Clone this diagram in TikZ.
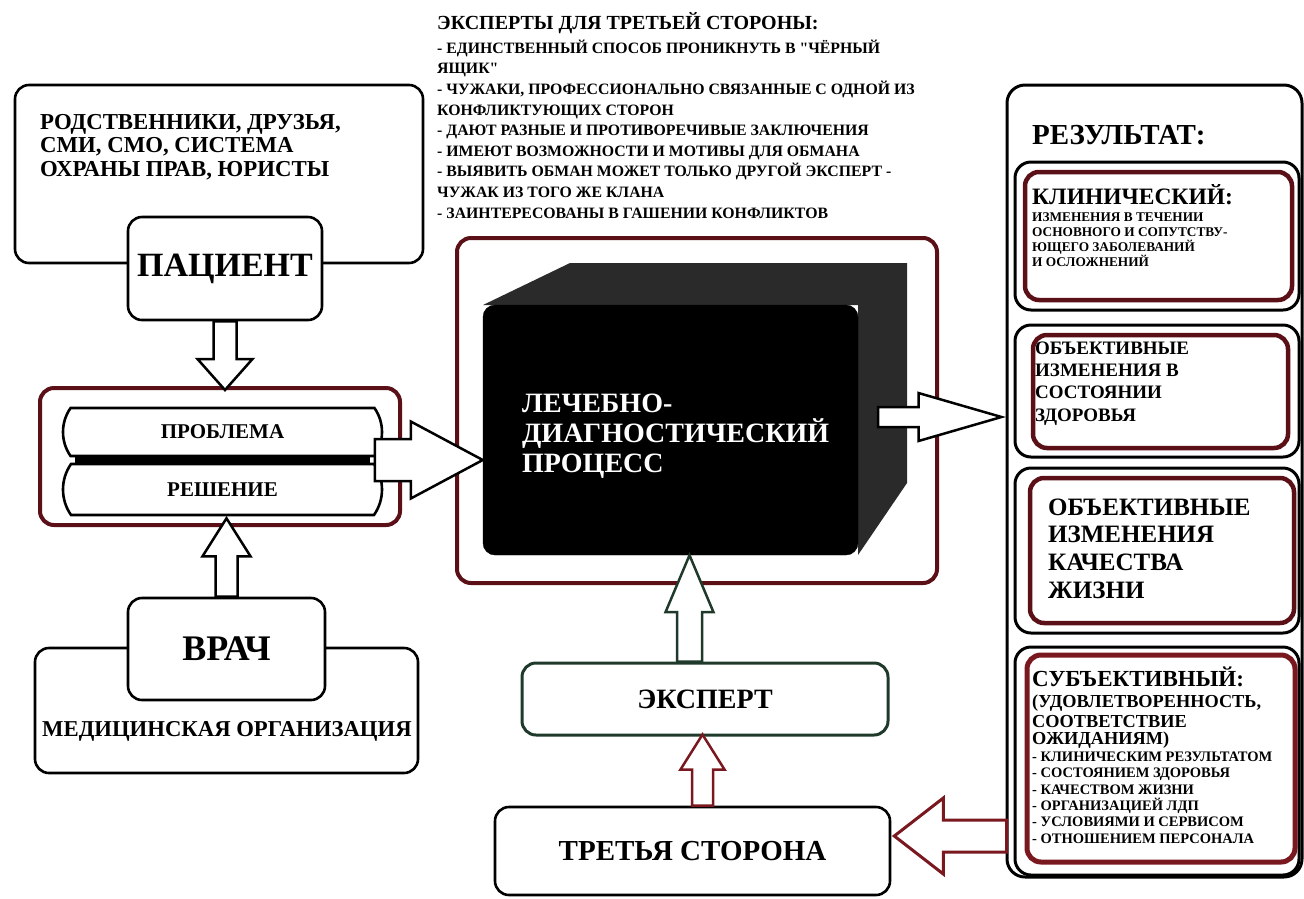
\documentclass[tikz,border=0pt]{standalone}
\usepackage{fontspec}
\setmainfont{Liberation Serif}
\newfontfamily\qfont{Liberation Serif}[Ligatures=TeXOff]
\usetikzlibrary{calc,shapes.misc}
\definecolor{dred}{HTML}{5A1016}
\definecolor{rred}{HTML}{7A1820}
\definecolor{dgreen}{HTML}{1F3A2B}
\definecolor{sideface}{HTML}{2A2A2A}
\newcommand\myfs[1]{\fontsize{#1}{#1}\selectfont\bfseries}
\newcommand\qq{{\qfont\bfseries"}}
\newcommand\blockarr[6][]{%
 \path[#1] let \p1=#2, \p2=#3, \n1={atan2(\y2-\y1,\x2-\x1)}, \n2={veclen(\x2-\x1,\y2-\y1)} in
  {[shift={(\p1)}, rotate=\n1] (0,#4) -- ({\n2-#6},#4) -- ({\n2-#6},#5) -- (\n2,0) -- ({\n2-#6},-#5) -- ({\n2-#6},-#4) -- (0,-#4) -- cycle};}
\tikzset{
 bx/.style={draw, line width=2.6pt, rounded corners=14pt, inner sep=0pt, fill=white},
 rbx/.style={bx, draw=dred, line width=4pt},
 pill/.style={draw, line width=2.6pt, rounded rectangle, rounded rectangle arc length=70, inner sep=0pt, fill=white},
 txt/.style={anchor=base west, inner sep=0pt},
 barr/.style={draw, fill=white, line width=2.5pt, line join=miter},
}
\begin{document}
\begin{tikzpicture}[x=1pt,y=-1pt]
\useasboundingbox (0,0) rectangle (1304,898);
% left column
\node[bx, minimum width=408, minimum height=178] (rod) at (219,174) {};
\node[txt, font=\myfs{22.8}] (rt1) at (40,129) {РОДСТВЕННИКИ, ДРУЗЬЯ,};
\node[txt, font=\myfs{22.8}] (rt2) at (40,152.5) {СМИ, СМО, СИСТЕМА};
\node[txt, font=\myfs{22.8}] (rt3) at (40,176) {ОХРАНЫ ПРАВ, ЮРИСТЫ};
\node[bx, minimum width=194, minimum height=103, font=\myfs{34}] (pat) at (225,268.5) {ПАЦИЕНТ};
\node[rbx, minimum width=360, minimum height=137] (prbox) at (220,456.5) {};
\draw[line width=8pt] (75,460) -- (370,460);
\node[pill, minimum width=319, minimum height=48, font=\myfs{21}] (prob) at (222.5,432) {ПРОБЛЕМА};
\node[pill, minimum width=319, minimum height=51, font=\myfs{21}] (resh) at (222.5,489.5) {РЕШЕНИЕ};
\node[bx, minimum width=383, minimum height=125] (med) at (226.5,710.5) {};
\node[txt, font=\myfs{22.7}] (medt) at (42,736) {МЕДИЦИНСКАЯ ОРГАНИЗАЦИЯ};
\node[bx, minimum width=197, minimum height=102, font=\myfs{36}] (vrach) at (226.5,649) {ВРАЧ};
% black box
\node[rbx, minimum width=480, minimum height=345] (ldpframe) at (697,410.5) {};
\fill[sideface] (483,305) -- (570,263) -- (907,263) -- (907,483) -- (858,555) -- (858,305) -- cycle;
\node[fill=black, draw=black, rounded corners=12pt, minimum width=375, minimum height=250, inner sep=0pt] (front) at (670.5,430) {};
\node[txt, white, font=\myfs{28}] (l1) at (522,412) {ЛЕЧЕБНО-};
\node[txt, white, font=\myfs{28}] (l2) at (522,442) {ДИАГНОСТИЧЕСКИЙ};
\node[txt, white, font=\myfs{28}] (l3) at (522,472) {ПРОЦЕСС};
% expert / third
\node[bx, draw=dgreen, line width=3pt, minimum width=366, minimum height=72, font=\myfs{28}] (eks) at (705,699) {ЭКСПЕРТ};
\node[bx, minimum width=395, minimum height=88, font=\myfs{29}] (third) at (692.5,851) {ТРЕТЬЯ СТОРОНА};
% top text
\node[txt, font=\myfs{20}] (th) at (437,29.5) {ЭКСПЕРТЫ ДЛЯ ТРЕТЬЕЙ СТОРОНЫ:};
\foreach \t [count=\i] in {{- ЕДИНСТВЕННЫЙ СПОСОБ ПРОНИКНУТЬ В \qq ЧЁРНЫЙ},{ЯЩИК\qq},{- ЧУЖАКИ, ПРОФЕССИОНАЛЬНО СВЯЗАННЫЕ С ОДНОЙ ИЗ},{КОНФЛИКТУЮЩИХ СТОРОН},{- ДАЮТ РАЗНЫЕ И ПРОТИВОРЕЧИВЫЕ ЗАКЛЮЧЕНИЯ},{- ИМЕЮТ ВОЗМОЖНОСТИ И МОТИВЫ ДЛЯ ОБМАНА},{- ВЫЯВИТЬ ОБМАН МОЖЕТ ТОЛЬКО ДРУГОЙ ЭКСПЕРТ -},{ЧУЖАК ИЗ ТОГО ЖЕ КЛАНА},{- ЗАИНТЕРЕСОВАНЫ В ГАШЕНИИ КОНФЛИКТОВ}}
  \node[txt, font=\myfs{15.8}] (tl\i) at (437,{53.3+20.6*(\i-1)}) {\t};
% result column
\node[bx, line width=3pt, rounded corners=18pt, minimum width=295, minimum height=792] (res) at (1154.5,481) {};
\node[txt, font=\myfs{29}] (rh) at (1032,144.5) {РЕЗУЛЬТАТ:};
\node[bx, line width=3pt, rounded corners=16pt, minimum width=284, minimum height=148] (ao) at (1157,236) {};
\node[rbx, line width=4.5pt, minimum width=267, minimum height=128] (ai) at (1158.5,236) {};
\node[bx, line width=3pt, rounded corners=16pt, minimum width=284, minimum height=132] (bo) at (1157,391) {};
\node[rbx, line width=4.5pt, minimum width=255, minimum height=113] (bi) at (1160.5,391.5) {};
\node[bx, line width=3pt, rounded corners=16pt, minimum width=284, minimum height=165] (co) at (1157,550.5) {};
\node[rbx, line width=4.5pt, minimum width=264, minimum height=145] (ci) at (1162,550.5) {};
\node[bx, line width=3pt, rounded corners=16pt, minimum width=284, minimum height=228] (do) at (1157,761) {};
\node[rbx, draw=rred, line width=5pt, minimum width=268, minimum height=207] (di) at (1161,758.5) {};
% box A text
\node[txt, font=\myfs{23.5}] (a0) at (1032,204.5) {КЛИНИЧЕСКИЙ:};
\foreach \t [count=\i] in {{ИЗМЕНЕНИЯ В ТЕЧЕНИИ},{ОСНОВНОГО И СОПУТСТВУ-},{ЮЩЕГО ЗАБОЛЕВАНИЙ},{И ОСЛОЖНЕНИЙ}}
  \node[txt, font=\myfs{13.3}] (a\i) at (1032,{221.5+15*(\i-1)}) {\t};
% box B text
\foreach \t [count=\i] in {{ОБЪЕКТИВНЫЕ},{ИЗМЕНЕНИЯ В},{СОСТОЯНИИ},{ЗДОРОВЬЯ}}
  \node[txt, font=\myfs{19}] (b\i) at (1035,{354.3+22.3*(\i-1)}) {\t};
% box C text
\foreach \t [count=\i] in {{ОБЪЕКТИВНЫЕ},{ИЗМЕНЕНИЯ},{КАЧЕСТВА},{ЖИЗНИ}}
  \node[txt, font=\myfs{25}] (c\i) at (1048,{515+27.7*(\i-1)}) {\t};
% box D text
\node[txt, font=\myfs{23}] (d0) at (1032,686) {СУБЪЕКТИВНЫЙ:};
\node[txt, font=\myfs{18.3}] (d1) at (1032,707.8) {(УДОВЛЕТВОРЕННОСТЬ,};
\node[txt, font=\myfs{18.3}] (d2) at (1032,727) {СООТВЕТСТВИЕ};
\node[txt, font=\myfs{18.3}] (d3) at (1032,744.5) {ОЖИДАНИЯМ)};
\foreach \t [count=\i] in {{- КЛИНИЧЕСКИМ РЕЗУЛЬТАТОМ},{- СОСТОЯНИЕМ ЗДОРОВЬЯ},{- КАЧЕСТВОМ ЖИЗНИ},{- ОРГАНИЗАЦИЕЙ ЛДП},{- УСЛОВИЯМИ И СЕРВИСОМ},{- ОТНОШЕНИЕМ ПЕРСОНАЛА}}
  \node[txt, font=\myfs{14.5}] (ds\i) at (1032,{761.5+16.3*(\i-1)}) {\t};
% arrows
\blockarr[barr]{(pat.south)}{($(pat.south |- prbox.north)+(0,4)$)}{11.5}{27.5}{31}
\blockarr[barr]{(vrach.north)}{($(vrach.north |- resh.south)+(0,2)$)}{11}{24}{38}
\coordinate (bstart) at ($(prob.south east)!.5!(resh.north east)$);
\blockarr[barr]{(bstart)}{(front.west |- bstart)}{21}{38.5}{72}
\coordinate (rstart) at ($(front.east)+(20,-13)$);
\blockarr[barr]{(rstart)}{($(res.west |- rstart)+(-4,0)$)}{10}{24}{83}
\blockarr[barr, draw=dgreen]{($(eks.north)+(-15.5,0)$)}{($(front.south)+(19,0)$)}{12.5}{24}{57}
\blockarr[barr, draw=rred]{($(third.north)+(10,0)$)}{($(eks.south)+(-2.5,-2)$)}{10.5}{22}{35}
\coordinate (tipL) at ($(third.east)+(3,-15)$);
\blockarr[barr, draw=rred, line width=3pt]{($(res.west |- tipL)+(1,0)$)}{(tipL)}{16}{38}{49}
\end{tikzpicture}
\end{document}
